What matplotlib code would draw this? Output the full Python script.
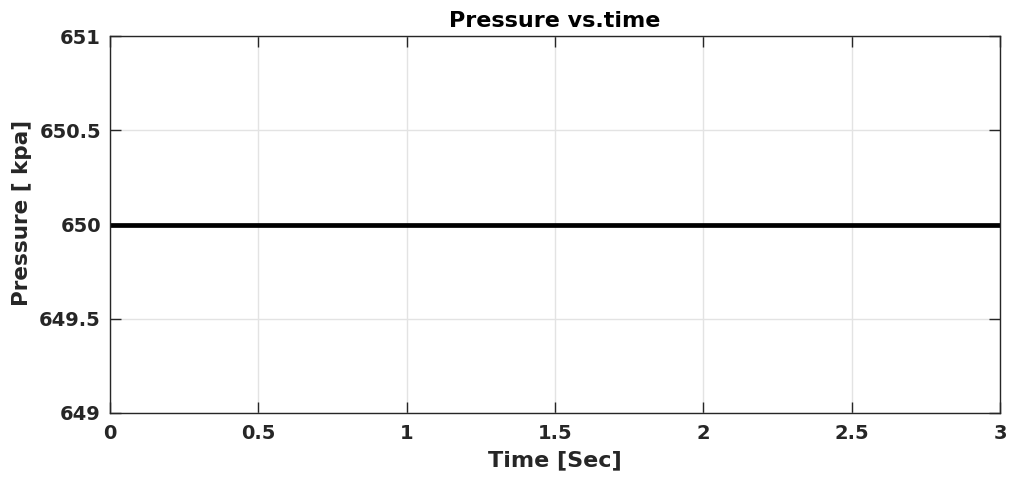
import matplotlib
matplotlib.use("Agg")
import matplotlib.pyplot as plt

# Pression constante dans la conduite
temps = [0.0, 3.0]
pression = [650.0, 650.0]
xticks = [0, 0.5, 1, 1.5, 2, 2.5, 3]
yticks = [649, 649.5, 650, 650.5, 651]
ytick_labels = ["649", "649.5", "650", "650.5", "651"]

plt.rcParams["font.family"] = ["DejaVu Sans"]
plt.rcParams["font.weight"] = "bold"

fig = plt.figure(figsize=(10.11, 4.79), dpi=100)
ax = fig.add_axes([0.1088, 0.1378, 0.8803, 0.7870])

ax.plot(temps, pression, color="black", linewidth=3.4, solid_capstyle="butt")

ax.set_xlim(0, 3)
ax.set_ylim(649, 651)
ax.set_xticks(xticks)
ax.set_xticklabels([f"{t:g}" for t in xticks])
ax.set_yticks(yticks)
ax.set_yticklabels(ytick_labels)

ax.grid(True, color="#e3e3e3", linewidth=1.0)
ax.set_axisbelow(True)
for s in ax.spines.values():
    s.set_color("#262626")
    s.set_linewidth(1.0)
ax.tick_params(direction="in", length=8, width=1.0, color="#262626",
               top=True, right=True, labelsize=14, labelcolor="#262626")
ax.tick_params(axis="x", pad=8)
ax.tick_params(axis="y", pad=6.5)

ax.set_xlabel("Time [Sec]", fontsize=16, fontweight="bold", color="#262626", labelpad=5)
ax.set_ylabel("Pressure [ kpa]", fontsize=15.5, fontweight="bold", color="#262626", labelpad=5)
ax.yaxis.label.set_y(0.532)  # label légèrement au-dessus du centre
ax.set_title("Pressure vs.time", fontsize=16, fontweight="bold", color="black", pad=6.5)

fig.savefig("out.png", dpi=100)
